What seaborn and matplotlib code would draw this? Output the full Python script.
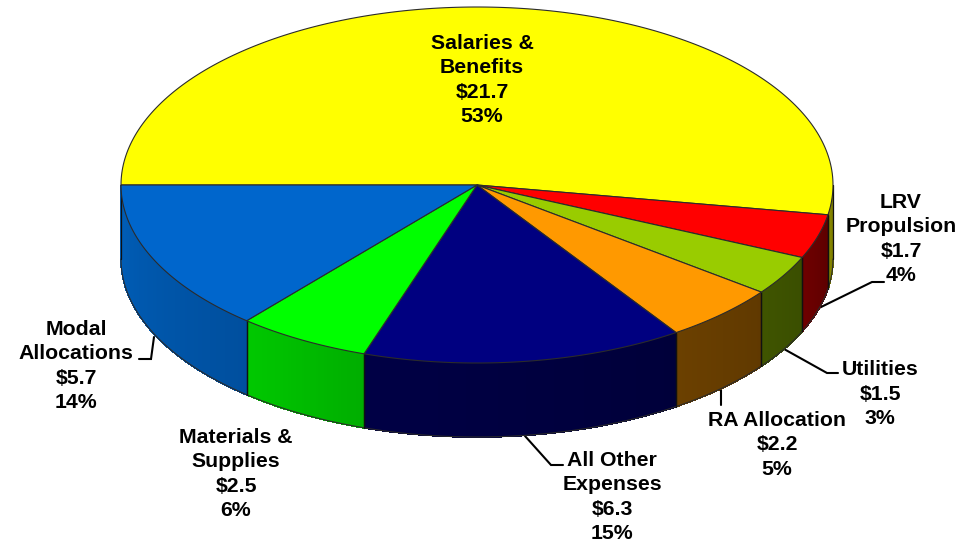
import numpy as np
import matplotlib
matplotlib.use("Agg")
import matplotlib.pyplot as plt
from matplotlib.colors import to_rgb
import seaborn as sns

# operating budget slices, clockwise from 9 o'clock
categories = ["Salaries &\nBenefits", "LRV\nPropulsion", "Utilities", "RA Allocation",
              "All Other\nExpenses", "Materials &\nSupplies", "Modal\nAllocations"]
amounts = [21.7, 1.7, 1.5, 2.2, 6.3, 2.5, 5.7]
percents = [53, 4, 3, 5, 15, 6, 14]
# slice sizes (labels are rounded)
shares = [52.67, 4.0, 3.6, 5.28, 14.58, 6.06, 13.8]

top_colors = ["#FFFF00", "#FF0000", "#99CC00", "#FF9900", "#000080", "#00FF00", "#0066CC"]
wall_left = ["#8A8A00", "#6E0000", "#3F5400", "#6B4000", "#000045", "#00C800", "#005EB8"]
wall_right = ["#6E6E00", "#5C0000", "#3A4E00", "#603900", "#00003A", "#00AE00", "#004F9E"]

label_pos = [(482, 80), (901, 239), (880, 394), (777, 445), (612, 497), (236, 474), (76, 366)]
leaders = [
    [(817, 309), (872, 282), (884, 282)],
    [(784, 349), (827, 373), (838, 373)],
    [(721, 388), (721, 405)],
    [(525, 436), (551, 465), (563, 465)],
    [(154, 337), (151, 359), (139, 359)],
]

# pie geometry in image pixels
cx, cy, rx, ry, depth = 477, 185, 356, 178, 74
edge = "#2b2b2b"

sns.set_theme(style="white")
plt.rcParams["font.family"] = ["Liberation Sans", "DejaVu Sans"]
palette = sns.color_palette(top_colors)

fig, ax = plt.subplots(figsize=(9.71, 5.43), dpi=100)
fig.subplots_adjust(0, 0, 1, 1)
ax.set_xlim(0, 971)
ax.set_ylim(543, 0)
ax.axis("off")


def rim(t):
    # y axis points down, so t growing from 180 runs over the top of the pie
    return cx + rx * np.cos(np.radians(t)), cy + ry * np.sin(np.radians(t))


fracs = np.array(shares) / sum(shares)
ends = 180 + np.cumsum(fracs) * 360
starts = np.r_[180, ends[:-1]]

# side walls first, only the front half (360..540) is visible
for i in range(len(amounts)):
    lo, hi = max(starts[i], 360), min(ends[i], 540)
    if hi <= lo:
        continue
    ts = np.linspace(lo, hi, max(int((hi - lo) * 2), 2) + 1)
    c_r, c_l = np.array(to_rgb(wall_right[i])), np.array(to_rgb(wall_left[i]))
    for j in range(len(ts) - 1):
        x, y = rim(np.linspace(ts[j], ts[j + 1], 3))
        col = c_r + (c_l - c_r) * j / max(len(ts) - 2, 1)
        # no antialiasing here, it leaves stripes between the strips
        ax.fill(np.r_[x, x[::-1]], np.r_[y, y[::-1] + depth], color=col, lw=0.6,
                antialiased=False, zorder=1)
    x, y = rim(np.linspace(lo, hi, 80))
    ax.plot(x, y + depth, color=edge, lw=0.8, zorder=2)
    for t in (lo, hi):
        px, py = rim(t)
        ax.plot([px, px], [py, py + depth], color="#111111", lw=0.9, zorder=2)

# top face
for i in range(len(amounts)):
    x, y = rim(np.linspace(starts[i], ends[i], 200))
    ax.fill(np.r_[cx, x], np.r_[cy, y], facecolor=palette[i], edgecolor=edge, lw=0.8, zorder=3)

for pts in leaders:
    xs, ys = zip(*pts)
    ax.plot(xs, ys, color="black", lw=1.5, zorder=0.5, solid_joinstyle="miter")

for name, amt, pct, (lx, ly) in zip(categories, amounts, percents, label_pos):
    ax.text(lx, ly, f"{name}\n\\${amt}\n{pct}%", ha="center", va="center", fontsize=15.3,
            fontweight="bold", color="black", linespacing=1.34, zorder=5)

fig.savefig("out.png", dpi=100)
plt.close(fig)
